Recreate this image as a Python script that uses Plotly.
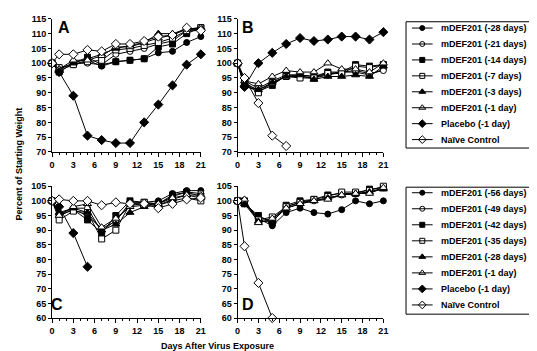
import plotly.graph_objects as go

days = [0, 1, 3, 5, 7, 9, 11, 13, 15, 17, 19, 21]

# Panel A (top-left)
legend_top = ["mDEF201 (-28 days)", "mDEF201 (-21 days)", "mDEF201 (-14 days)",
              "mDEF201 (-7 days)", "mDEF201 (-3 days)", "mDEF201 (-1 day)",
              "Placebo (-1 day)", "Naïve Control"]
a_m28 = [100, 97.5, 99.5, 101, 99, 100.5, 101, 101.5, 103.5, 104, 107, 109]
a_m21 = [100, 98, 100, 100, 99.5, 103, 104, 105, 106.5, 107.5, 111, 111]
a_m14 = [100, 97, 100, 102, 99.5, 100.5, 101, 101.5, 105.5, 106.5, 110, 112]
a_m7 = [100, 98.5, 99.5, 100.5, 101, 104.5, 105, 106, 107, 108.5, 111, 112]
a_m3 = [100, 98, 100, 101.5, 103, 105, 106, 107, 110, 110, 111.5, 112]
a_m1 = [100, 98, 101, 101, 102.5, 105.5, 105.5, 107, 108.5, 109.5, 111.5, 112]
a_placebo = [100, 97, 89, 75.5, 74, 73, 73, 80, 86, 92.5, 99.5, 103]
a_naive = [100, 103, 103, 104.5, 104, 106.5, 106.5, 107.5, 109, 109.5, 112, 111]

# Panel B (top-right)
b_m28 = [100, 92, 91, 93, 95.5, 95.5, 95, 96, 97, 97, 96, 98]
b_m21 = [100, 94, 91.5, 94, 96, 96, 95.5, 96.5, 97, 97.5, 96.5, 97.5]
b_m14 = [100, 93.5, 90.5, 92.5, 96, 96, 95.5, 97, 97, 99.5, 99, 99.5]
b_m7 = [100, 93, 90, 93.5, 95.5, 95, 95, 96.5, 96.5, 99, 98.5, 99.5]
b_m3 = [100, 93, 91, 93.5, 95.5, 96, 94.5, 95.5, 95.5, 96, 95.5, 99]
b_m1 = [100, 94, 93, 95.5, 97.5, 97, 97, 100, 98, 98, 97, 100]
b_placebo = [100, 92, 100, 103.5, 106.5, 108.5, 107.5, 108, 109, 109, 108, 110.5]
b_naive = [100, 95, 86.5, 75.5, 72]

# Panel C (bottom-left)
legend_bottom = ["mDEF201 (-56 days)", "mDEF201 (-49 days)", "mDEF201 (-42 days)",
                 "mDEF201 (-35 days)", "mDEF201 (-28 days)", "mDEF201 (-1 day)",
                 "Placebo (-1 day)", "Naïve Control"]
c_m56 = [100, 95, 97, 95, 90.5, 93, 99.5, 99.5, 100, 102.5, 103.5, 103.5]
c_m49 = [100, 95.5, 97.5, 97.5, 89.5, 93.5, 98.5, 99, 99, 101.5, 103, 102.5]
c_m42 = [100, 95, 97, 93.5, 89, 95, 100, 99.5, 99, 102, 103, 101.5]
c_m35 = [100, 93.5, 96.5, 96, 87, 90, 99, 99.5, 98.5, 100, 101, 100]
c_m28 = [100, 96, 97.5, 96, 90, 92, 96, 98, 98.5, 100.5, 102, 101]
c_m1 = [100, 95, 98, 99, 91, 94, 98, 98.5, 99, 101, 102, 102]
c_placebo = [100, 98, 89, 77.5]
c_naive = [100, 100.5, 100, 100, 98.5, 99.5, 99, 99, 97.5, 99, 100.5, 101]

# Panel D (bottom-right)
d_m56 = [100, 99, 94, 91.5, 96, 97.5, 96, 95.5, 97, 100, 99, 100]
d_m49 = [100, 99.5, 94, 93.5, 98, 99.5, 100, 101, 102, 102.5, 103, 104.5]
d_m42 = [100, 99, 95, 92.5, 98.5, 100, 100.5, 102, 102.5, 102.5, 104, 104.5]
d_m35 = [100, 100, 93.5, 94.5, 98, 99.5, 100.5, 101.5, 103, 103, 103.5, 105]
d_m28 = [100, 99, 93, 93, 97.5, 99, 100, 101, 102, 102.5, 103, 104]
d_m1 = [100, 100.5, 92.5, 94, 97.5, 99, 100, 100.5, 102, 102.5, 102.5, 104.5]
d_naive = [100, 84.5, 72, 60]

styles = [("circle", "black", 6), ("circle", "white", 6), ("square", "black", 6),
          ("square", "white", 6), ("triangle-up", "black", 7), ("triangle-up", "white", 7),
          ("diamond", "black", 7), ("diamond", "white", 7)]

FONT = "Liberation Sans, Arial, Helvetica, sans-serif"
W, H = 537, 351

def fx(px):
    return px / W

def fy(py):
    return (H - py) / H

fig = go.Figure()

panels = [
    ("x", "y", [a_m28, a_m21, a_m14, a_m7, a_m3, a_m1, a_placebo, a_naive]),
    ("x2", "y2", [b_m28, b_m21, b_m14, b_m7, b_m3, b_m1, b_placebo, b_naive]),
    ("x3", "y3", [c_m56, c_m49, c_m42, c_m35, c_m28, c_m1, c_placebo, c_naive]),
    ("x4", "y4", [d_m56, d_m49, d_m42, d_m35, d_m28, d_m1, None, d_naive]),
]

for xa, ya, series in panels:
    for i, vals in enumerate(series):
        if vals is None:
            continue
        sym, fill, size = styles[i]
        fig.add_trace(go.Scatter(
            x=days[:len(vals)], y=vals, xaxis=xa, yaxis=ya,
            mode="lines+markers", cliponaxis=False, showlegend=False,
            line=dict(color="black", width=1),
            marker=dict(symbol=sym, size=size, color=fill,
                        line=dict(color="black", width=1))))

# Hand-built legends (pixel-space overlay axis), matching the compact original layout
legend_boxes = [(legend_top, 9, 139, 15.5, 16.4), (legend_bottom, 179.3, 310, 185, 16.5)]
shapes = []
annotations = []
leg_font = dict(family=FONT, size=9, color="black", weight="bold")
for names, top, bottom, first, step in legend_boxes:
    shapes.append(dict(type="rect", xref="paper", yref="paper",
                       x0=fx(401), x1=fx(527), y0=fy(bottom), y1=fy(top),
                       line=dict(color="black", width=1), fillcolor="rgba(0,0,0,0)"))
    for i, name in enumerate(names):
        yc = first + i * step
        sym, fill, size = styles[i]
        shapes.append(dict(type="line", xref="paper", yref="paper",
                           x0=fx(407), x1=fx(428), y0=fy(yc), y1=fy(yc),
                           line=dict(color="black", width=1)))
        fig.add_trace(go.Scatter(
            x=[417.5], y=[yc], xaxis="x5", yaxis="y5", mode="markers",
            showlegend=False, hoverinfo="skip", cliponaxis=False,
            marker=dict(symbol=sym, size=size - 1, color=fill,
                        line=dict(color="black", width=1))))
        annotations.append(dict(text=name, x=fx(434), y=fy(yc), xref="paper", yref="paper",
                                showarrow=False, font=leg_font, xanchor="left",
                                yanchor="middle"))

xcommon = dict(range=[0, 21], tickvals=[0, 3, 6, 9, 12, 15, 18, 21],
               showline=True, linecolor="black", linewidth=1,
               ticks="outside", ticklen=4, tickcolor="black", showgrid=False,
               zeroline=False, tickfont=dict(family=FONT, size=9, color="black", weight="bold"),
               minor=dict(dtick=1, ticks="outside", ticklen=2, tickcolor="black", showgrid=False))
ycommon = dict(showline=True, linecolor="black", linewidth=1,
               ticks="outside", ticklen=3, tickcolor="black", showgrid=False,
               zeroline=False, dtick=5,
               tickfont=dict(family=FONT, size=9, color="black", weight="bold"))

xa_dom = [fx(41.7), fx(192.7)]
xb_dom = [fx(230), fx(378)]
ytop_dom = [fy(143), fy(6)]
ybot_dom = [fy(314), fy(178.3)]

fig.update_layout(
    width=W, height=H, margin=dict(l=0, r=0, t=0, b=0),
    paper_bgcolor="white", plot_bgcolor="rgba(0,0,0,0)", showlegend=False,
    xaxis=dict(domain=xa_dom, anchor="y", **xcommon),
    yaxis=dict(domain=ytop_dom, anchor="x", range=[70, 115], **ycommon),
    xaxis2=dict(domain=xb_dom, anchor="y2", **xcommon),
    yaxis2=dict(domain=ytop_dom, anchor="x2", range=[70, 115], **ycommon),
    xaxis3=dict(domain=xa_dom, anchor="y3", **xcommon),
    yaxis3=dict(domain=ybot_dom, anchor="x3", range=[60, 105], **ycommon),
    xaxis4=dict(domain=xb_dom, anchor="y4", **xcommon),
    yaxis4=dict(domain=ybot_dom, anchor="x4", range=[60, 105], **ycommon),
    xaxis5=dict(domain=[0, 1], range=[0, W], visible=False, fixedrange=True),
    yaxis5=dict(domain=[0, 1], range=[H, 0], visible=False, fixedrange=True, anchor="x5"),
    shapes=shapes,
)

letter_font = dict(family=FONT, size=16, color="black", weight="bold")
for txt, px, py in [("A", 54, 15), ("B", 241, 15), ("C", 47, 300), ("D", 241, 300)]:
    annotations.append(dict(text=txt, x=fx(px), y=fy(py), xref="paper", yref="paper",
                            showarrow=False, font=letter_font, xanchor="center",
                            yanchor="middle"))

title_font = dict(family=FONT, size=9, color="black", weight="bold")
annotations.append(dict(text="Percent of Starting Weight", x=fx(1), y=fy(155), xref="paper",
                        yref="paper", showarrow=False, textangle=-90, font=title_font,
                        xanchor="left", yanchor="middle"))
annotations.append(dict(text="Days After Virus Exposure", x=fx(210), y=fy(343), xref="paper",
                        yref="paper", showarrow=False, font=title_font,
                        xanchor="center", yanchor="middle"))
fig.update_layout(annotations=annotations)

fig.write_html("out.html")
